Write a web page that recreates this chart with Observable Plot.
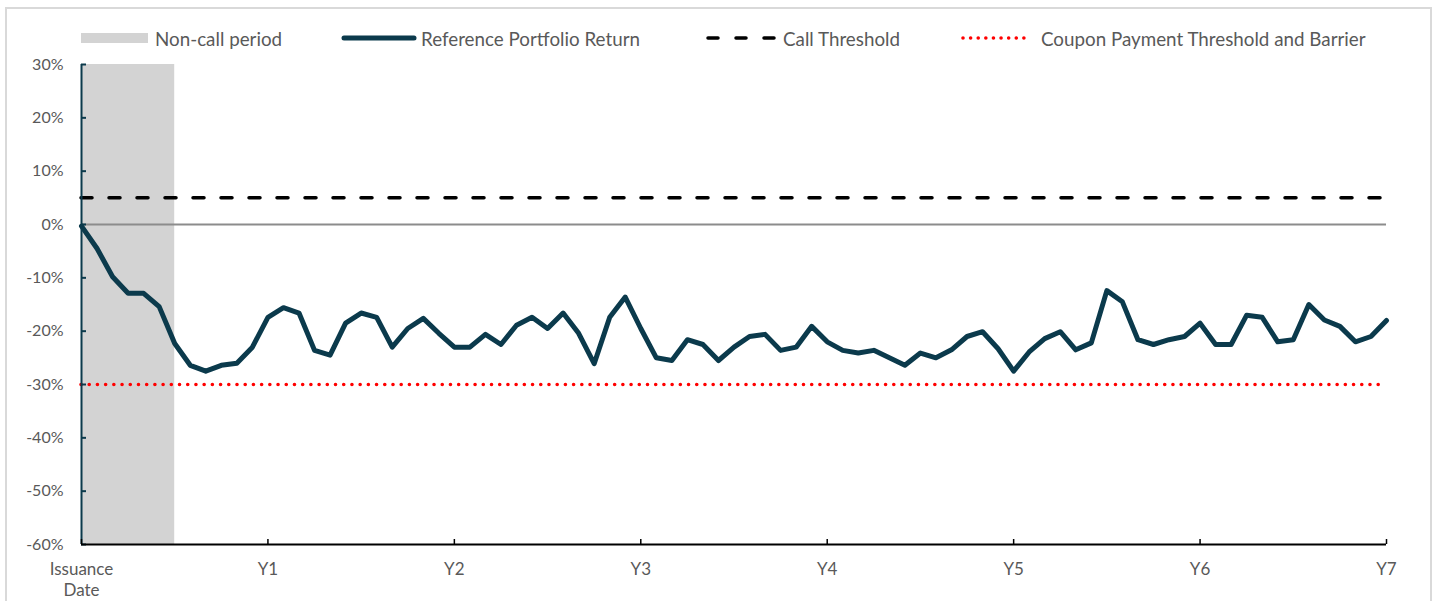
<!DOCTYPE html>
<html>
<head>
<meta charset="utf-8">
<script src="https://cdn.jsdelivr.net/npm/d3@7"></script>
<script src="https://cdn.jsdelivr.net/npm/@observablehq/plot@0.6"></script>
<style>
  html, body { margin: 0; padding: 0; background: #fff; overflow: hidden; }
  body { width: 1439px; height: 601px; position: relative; font-family: Lato, "Open Sans", sans-serif; }
  #frame { position: absolute; left: 5px; top: 7px; width: 1427px; height: 700px; border: 2px solid #d9d9d9; pointer-events: none; box-sizing: border-box; }
  #legend { position: absolute; left: 0; top: 0; width: 1439px; height: 50px; }
  .item { position: absolute; top: 25px; height: 26px; display: flex; align-items: center; color: #595959; font-size: 18.8px; white-space: nowrap; }
  .item svg { display: block; }
  #chart { position: absolute; left: 0; top: 50px; }
</style>
</head>
<body>
<div id="frame"></div>
<div id="legend"></div>
<div id="chart"></div>
<script>
// ---- data ----
const months = [0,1,2,3,4,5,6,7,8,9,10,11,12,13,14,15,16,17,18,19,20,21,22,23,24,25,26,27,28,29,30,31,32,33,34,35,36,37,38,39,40,41,42,43,44,45,46,47,48,49,50,51,52,53,54,55,56,57,58,59,60,61,62,63,64,65,66,67,68,69,70,71,72,73,74,75,76,77,78,79,80,81,82,83,84];
const portfolioReturn = [
  -0.3, -4.5, -9.8, -12.9, -12.9, -15.4, -22.3, -26.4, -27.5, -26.4, -26.0, -23.0,
  -17.4, -15.6, -16.6, -23.6, -24.5, -18.5, -16.6, -17.4, -23.0, -19.5, -17.6, -20.4,
  -23.0, -23.0, -20.6, -22.5, -18.9, -17.4, -19.5, -16.6, -20.4, -26.1, -17.4, -13.6,
  -19.5, -25.0, -25.5, -21.6, -22.5, -25.5, -23.0, -21.0, -20.6, -23.6, -23.0, -19.1,
  -22.0, -23.6, -24.1, -23.6, -25.0, -26.4, -24.1, -25.0, -23.5, -21.0, -20.1, -23.3,
  -27.5, -23.9, -21.4, -20.1, -23.5, -22.2, -12.4, -14.5, -21.6, -22.5, -21.6, -21.0,
  -18.5, -22.5, -22.5, -17.0, -17.4, -22.0, -21.6, -15.0, -17.9, -19.1, -22.0, -21.0,
  -18.0
];
const callThreshold = [5];
const couponBarrier = [-30];
const zeroLine = [0];
const nonCallStart = [0];
const nonCallEnd = [6];
const yTicks = [30, 20, 10, 0, -10, -20, -30, -40, -50, -60];
const xTicks = [0, 12, 24, 36, 48, 60, 72, 84];
const xTickLabels = ["Issuance\nDate", "Y1", "Y2", "Y3", "Y4", "Y5", "Y6", "Y7"];
const legendLabels = ["Non-call period", "Reference Portfolio Return", "Call Threshold", "Coupon Payment Threshold and Barrier"];

// ---- styles ----
const C = { band: "#d3d3d3", line: "#0b3a4c", call: "#000000", coupon: "#ff0000", zero: "#8c8c8c", text: "#595959", yAxis: "#0b3a4c", xAxis: "#000000" };

const yMin = d3.min(yTicks), yMax = d3.max(yTicks);
const series = months.map((m, i) => ({ month: m, value: portfolioReturn[i] }));
const band = nonCallStart.map((s, i) => ({ start: s, end: nonCallEnd[i] }));
const labelOf = new Map(xTicks.map((t, i) => [t, xTickLabels[i]]));

const W = 1439, H = 551, mL = 81, mR = 53, mT = 14, mB = 57;
const frameW = W - mL - mR, frameH = H - mT - mB;

const plot = Plot.plot({
  width: W, height: H,
  marginTop: mT, marginBottom: mB, marginLeft: mL, marginRight: mR,
  style: { fontFamily: "Lato, 'Open Sans', sans-serif", background: "transparent", overflow: "visible" },
  x: { domain: [d3.min(xTicks), d3.max(xTicks)], axis: null },
  y: { domain: [yMin, yMax], axis: null },
  marks: [
    Plot.rect(band, { x1: "start", x2: "end", y1: yMin, y2: yMax, fill: C.band }),
    Plot.ruleY(zeroLine, { stroke: C.zero, strokeWidth: 2 }),
    Plot.ruleY(callThreshold, { stroke: C.call, strokeWidth: 3.5, strokeDasharray: "11,17", strokeLinecap: "round" }),
    Plot.ruleY(couponBarrier, { stroke: C.coupon, strokeWidth: 3.6, strokeDasharray: "0.01,8.2", strokeLinecap: "round" }),
    Plot.line(series, { x: "month", y: "value", stroke: C.line, strokeWidth: 5, strokeLinejoin: "round", strokeLinecap: "round" }),
    // y axis
    Plot.ruleX([d3.min(xTicks)], { stroke: C.yAxis, strokeWidth: 2 }),
    Plot.tickY(yTicks, { y: d => d, stroke: C.yAxis, strokeWidth: 2, insetRight: frameW - 5 }),
    Plot.axisY(yTicks, { tickSize: 0, tickPadding: 18, tickFormat: d => d + "%", color: C.text, fontSize: 16, label: null }),
    // x axis
    Plot.ruleY([yMin], { stroke: C.xAxis, strokeWidth: 2 }),
    Plot.tickX(xTicks, { x: d => d, stroke: C.xAxis, strokeWidth: 1.5, insetTop: frameH - 5 }),
    Plot.axisX(xTicks, { tickSize: 0, tickPadding: 15, tickFormat: d => labelOf.get(d), color: C.text, fontSize: 17, lineHeight: 1.25, label: null })
  ]
});
document.getElementById("chart").appendChild(plot);

// ---- legend ----
const legend = document.getElementById("legend");
const swatches = [
  `<svg width="67" height="12"><rect x="0" y="1" width="67" height="10" fill="${C.band}"/></svg>`,
  `<svg width="76" height="12"><line x1="3" y1="6" x2="73" y2="6" stroke="${C.line}" stroke-width="5" stroke-linecap="round"/></svg>`,
  `<svg width="72" height="12"><line x1="2" y1="6" x2="70" y2="6" stroke="${C.call}" stroke-width="3.5" stroke-dasharray="10,18" stroke-linecap="round"/></svg>`,
  `<svg width="72" height="12"><line x1="2" y1="6" x2="70" y2="6" stroke="${C.coupon}" stroke-width="3.6" stroke-dasharray="0.01,7.6" stroke-linecap="round"/></svg>`
];
const lefts = [81, 341, 706, 961];
const gaps = [7, 4, 5, 8];
legendLabels.forEach((lab, i) => {
  const d = document.createElement("div");
  d.className = "item";
  d.style.left = lefts[i] + "px";
  d.innerHTML = swatches[i].replace('<svg ', `<svg style="margin-right:${gaps[i]}px" `) + `<span>${lab}</span>`;
  legend.appendChild(d);
});
</script>
</body>
</html>
